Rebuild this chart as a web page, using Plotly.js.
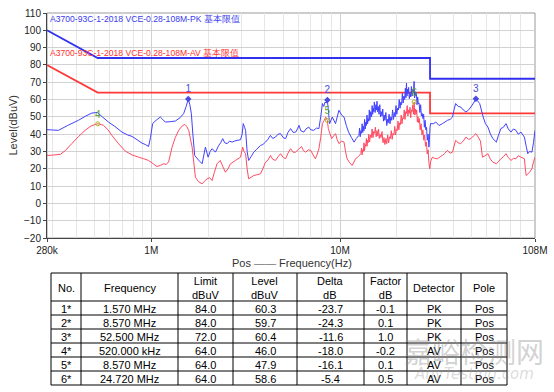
<!DOCTYPE html>
<html>
<head>
<meta charset="utf-8">
<script src="https://cdn.plot.ly/plotly-3.0.1.min.js"></script>
<style>html,body{margin:0;padding:0;background:#fff;}#chart{width:554px;height:392px;}</style>
</head>
<body>
<div id="chart"></div>
<script>
// ---------- data (frequencies in MHz, levels in dBuV) ----------
var limitFreq = [0.28, 0.52, 30, 30, 108];
var pkLimit   = [100, 84, 84, 72, 72];
var avLimit   = [80, 64, 64, 52, 52];

var pkFreq = [0.28,0.30,0.322,0.36,0.411,0.45,0.484,0.519,0.55,0.593,0.64,0.699,0.75,0.79,0.84,0.893,0.93,0.967,0.99,1.016,1.06,1.116,1.15,1.186,1.26,1.341,1.42,1.484,1.53,1.57,1.60,1.63,1.66,1.698,1.78,1.859,1.935,2.0,2.05,2.10,2.187,2.277,2.33,2.39,2.45,2.525,2.60,2.68,2.76,2.85,2.97,3.03,3.07,3.12,3.16,3.22,3.28,3.38,3.49,3.6,3.79,3.9,4.03,4.15,4.28,4.4,4.55,4.7,4.84,5.0,5.15,5.3,5.47,5.65,5.82,5.95,6.06,6.2,6.43,6.6,6.83,7.0,7.26,7.5,7.73,7.9,8.07,8.2,8.33,8.45,8.57,8.81,9.1,9.47,9.87,10.2,10.5,10.8,11.1,11.5,11.88,12.2,
  12.6,12.7,12.8,12.9,13.0,13.1,13.2,13.3,13.4,13.5,13.6,13.7,13.8,13.9,14.0,14.1,14.2,14.3,14.4,14.55,14.7,14.8,14.9,15.0,15.1,15.2,15.35,15.5,15.6,15.7,15.8,15.95,16.1,16.25,16.4,16.55,16.7,16.85,17.0,17.15,17.3,17.5,17.7,17.85,18.0,18.2,18.4,18.6,18.8,19.0,19.2,19.4,19.6,19.8,20.0,20.2,20.4,20.6,20.8,21.0,21.2,21.4,21.6,21.8,22.0,22.2,22.35,22.5,22.65,22.8,22.95,23.1,23.3,23.5,23.7,23.9,24.1,24.3,24.5,24.7,24.85,25.0,25.2,25.4,25.6,25.8,26.0,26.25,26.5,26.75,27.0,27.25,27.5,27.75,28.0,28.25,28.5,28.75,29.0,29.3,29.6,29.8,30.0,30.2,
  31.2,32.2,33.5,34.9,36,37.1,38.3,39.5,40.2,41.0,42.3,43.6,45,46.5,48,49.4,51,52.5,55,57.4,59,60.8,62.7,64.6,67.4,69,71.2,73.5,75.8,78,80.5,83,85.6,88,91.0,94.9,97,98.9,101,104,106,108];
var pkLevel = [42.6,42.4,42.2,45,48.0,50.5,52.2,52.5,50,47.0,44.5,41.2,39.5,38.7,36.8,34.8,34,32.9,38,46.1,48,49.9,48.5,47.0,47.2,47.6,49.5,51.9,56,60.3,57,51.9,40,27.7,25,22.9,32.5,26.7,30,31.6,29.6,33.5,35,37.4,35,34.5,36,35.4,36,36.4,36.8,40,46.1,44,42.2,30,24.8,27,29.6,31,33.5,34,35.4,37,39.3,37.5,38.3,40,40.3,38,37.4,41,43.2,41,41.2,43,45.1,42,41.2,43,44.1,42.5,42.2,43.5,43.2,50,57.7,56,58.5,58,59.7,46.1,49.9,46.1,53.8,51,49.9,45,41.2,38,35.4,37.5,
  39.3,43.5,38.5,42,40.5,46,41,44.5,42,48.5,43,47,45,51,46,49,47.5,54,48,53,50,56.5,51.5,55,53,58.6,52.5,57,54,59,53,56,51.5,57,50,53,50.5,54.5,47.5,51,48,52.5,45,48.5,46.5,51.5,46,50,48,54,48.5,52.5,50,56.5,51.5,55,54,60,55,58.5,57,63.5,58,62,60,66.5,61,69.5,62,66,63.5,67,60.5,64,61.5,67.5,62,66,64,70.5,61,64.5,62,64,57,61.5,57.5,58,52.5,57,50.5,52,49,51.5,44,48,42.5,44,36.5,40,32.5,37,44,46.1,
  46,47.0,45,46.1,47,48.0,48.5,49.9,54,57.7,56,55.7,54,52.8,54,55.7,58,60.4,57.7,49.9,46,44.1,40,37.4,35.4,39,43.2,44,46.1,43,41.2,43,42.2,40,41.2,38.3,33,28.7,30,29.6,35,42.2];

var avFreq = [0.28,0.30,0.329,0.35,0.379,0.41,0.446,0.48,0.52,0.558,0.59,0.618,0.67,0.728,0.79,0.856,0.91,0.967,1.02,1.072,1.12,1.163,1.2,1.235,1.288,1.34,1.396,1.45,1.503,1.54,1.578,1.645,1.713,1.78,1.859,1.92,1.976,2.04,2.10,2.16,2.23,2.32,2.40,2.47,2.55,2.63,2.79,2.97,3.05,3.10,3.16,3.22,3.28,3.49,3.62,3.79,3.9,4.03,4.15,4.28,4.4,4.55,4.7,4.84,5.0,5.15,5.3,5.47,5.65,5.82,6.0,6.25,6.4,6.58,6.8,7.0,7.2,7.4,7.55,7.73,7.9,8.07,8.25,8.4,8.57,8.67,9.03,9.25,9.47,9.65,9.87,10.2,10.5,10.7,10.9,11.25,11.6,12.1,12.5,
  12.9,13.0,13.1,13.2,13.3,13.4,13.5,13.6,13.7,13.8,13.9,14.0,14.1,14.2,14.35,14.5,14.65,14.8,14.95,15.1,15.25,15.4,15.55,15.7,15.85,16.0,16.15,16.3,16.5,16.7,16.9,17.1,17.3,17.5,17.7,17.9,18.1,18.3,18.5,18.7,18.9,19.1,19.3,19.5,19.7,19.9,20.1,20.3,20.5,20.7,20.9,21.1,21.3,21.5,21.7,21.9,22.1,22.3,22.5,22.7,22.9,23.1,23.3,23.5,23.7,23.9,24.1,24.3,24.5,24.72,24.9,25.1,25.3,25.5,25.7,25.9,26.1,26.35,26.6,26.9,27.2,27.5,27.8,28.1,28.4,28.7,29.0,29.3,29.6,29.9,30.2,30.4,30.9,
  31.8,32.9,34,34.9,36,37.1,38.3,39.5,40.2,41.0,42.3,43.6,45,46.5,48,49.4,51,52.5,54,55.5,56.9,58.7,60.8,62.7,64.6,67.4,69,71.2,73.5,75.8,78,80.5,83,85.6,88,91,94.9,96,97,99,101,104,106,108];
var avLevel = [27.7,27.9,28.3,30.5,34.5,38.5,42.2,44.8,46.0,45.1,42.5,39.3,34.5,30.2,28,26.7,25.8,24.8,23,21.3,22,22.9,22.5,24,32.5,38,42.2,44.5,45.7,44.5,42.2,32.5,15.1,12.5,11.3,13,14.2,14.8,13.2,18,22.9,24.8,21,18.0,20,22.9,24.8,26.7,32.5,30,28.7,20,14.2,16.1,16.5,17.1,20,23.8,25,27.7,25.5,24.8,27,28.7,26.5,25.8,29,31.6,29.5,29.6,31,32.9,30.5,29.6,31,30.6,28,25.8,28,31.6,38,46.1,48,49.9,47.9,43.2,37.4,39,40.3,37,34.5,36,35.4,30,25.8,23.5,21.9,25.8,27,
  28.7,32,28,31,30,35,30.5,34,33,37.5,33,36.5,35,40,35.5,39.5,38,43,38,41.5,40.5,44,38.5,42,39,43,37.5,40,38,41.5,35,38,34,37.5,34.5,39.5,35,38.5,37.5,42,37,40.5,39.5,44.5,39.5,43,42,47.5,42.5,46.5,45.5,51,46,49.5,49,54,48.5,53,52,56.5,50.5,54,52,55.5,49.5,54,53,57,51.5,58.6,51,54.5,51.5,54,47,50,46.5,49,42.5,46,39.5,42.5,36.5,39.5,33,35.5,28.5,31,23.5,20.0,24,25,26.7,
  26,25.8,27,27.7,29,30.6,29,29.6,33,36.4,35,34.5,36,38.3,37,37.4,39,40.3,38.3,36,26.7,27.5,28.7,25.5,23.8,22.9,24,25.8,27,28.7,26.5,24.8,26,25.8,27.5,26.7,25.8,20,16.1,17,18,20,24,26.7];

var pkMarkFreq  = [1.57, 8.57, 52.5];
var pkMarkLevel = [60.3, 59.7, 60.4];
var pkMarkText  = ['1', '2', '3'];
var avMarkFreq  = [0.52, 8.57, 24.72];
var avMarkLevel = [46.0, 47.9, 58.6];
var avMarkText  = ['4', '5', '6'];

var xTickVals = [0.28, 1, 10, 108];
var xTickText = ['280k', '1M', '10M', '108M'];

var tblNo       = ['1*', '2*', '3*', '4*', '5*', '6*'];
var tblFreq     = ['1.570 MHz', '8.570 MHz', '52.500 MHz', '520.000 kHz', '8.570 MHz', '24.720 MHz'];
var tblLimit    = ['84.0', '84.0', '72.0', '64.0', '64.0', '64.0'];
var tblLevel    = ['60.3', '59.7', '60.4', '46.0', '47.9', '58.6'];
var tblDelta    = ['-23.7', '-24.3', '-11.6', '-18.0', '-16.1', '-5.4'];
var tblFactor   = ['-0.1', '0.1', '1.0', '-0.2', '0.1', '0.5'];
var tblDetector = ['PK', 'PK', 'PK', 'AV', 'AV', 'AV'];
var tblPole     = ['Pos', 'Pos', 'Pos', 'Pos', 'Pos', 'Pos'];
var tblHeader   = ['No.', 'Frequency', 'Limit<br>dBuV', 'Level<br>dBuV', 'Delta<br>dB', 'Factor<br>dB', 'Detector', 'Pole'];

var pkLimitName = 'A3700-93C-1-2018 VCE-0.28-108M-PK 基本限值';
var avLimitName = 'A3700-93C-1-2018 VCE-0.28-108M-AV 基本限值';

// ---------- layout helpers ----------
var W = 554, H = 392, ML = 47, MR = 19, MT = 13, MB = 8;
var PW = W - ML - MR, PH = H - MT - MB;
function px2x(px) { return (px - ML) / PW; }
function px2y(py) { return (H - MB - py) / PH; }

var FONT = "'Liberation Sans Narrow', 'Liberation Sans', Arial, sans-serif";
var FONT_R = "'Liberation Sans', Arial, sans-serif";

var minorVals = [];
[0.1, 1, 10].forEach(function (d) {
  for (var k = 2; k <= 9; k++) {
    var v = k * d;
    if (v > 0.28 && v < 108 && Math.abs(v - 1) > 1e-9 && Math.abs(v - 10) > 1e-9) minorVals.push(v);
  }
});

// ---------- table built from the arrays (lines + texts) ----------
var colEdges = [51, 81, 178, 233, 297, 364, 407, 461, 507];
var rowEdges = [273, 301, 315, 329, 343, 357, 371, 385];
var shapes = [{type: 'rect', xref: 'x domain', yref: 'y domain', x0: 0, x1: 1, y0: 0, y1: 1,
               line: {color: '#9a9a9a', width: 1}, layer: 'below'}];
rowEdges.forEach(function (r) {
  shapes.push({type: 'line', xref: 'paper', yref: 'paper', x0: px2x(colEdges[0]), x1: px2x(colEdges[colEdges.length - 1]),
               y0: px2y(r), y1: px2y(r), line: {color: '#000', width: 1}});
});
colEdges.forEach(function (c) {
  shapes.push({type: 'line', xref: 'paper', yref: 'paper', x0: px2x(c), x1: px2x(c),
               y0: px2y(rowEdges[0]), y1: px2y(rowEdges[rowEdges.length - 1]), line: {color: '#000', width: 1}});
});
var columns = [tblNo, tblFreq, tblLimit, tblLevel, tblDelta, tblFactor, tblDetector, tblPole];
var annotations = [];
columns.forEach(function (col, ci) {
  var cx = px2x((colEdges[ci] + colEdges[ci + 1]) / 2);
  annotations.push({text: tblHeader[ci], xref: 'paper', yref: 'paper', x: cx, y: px2y((rowEdges[0] + rowEdges[1]) / 2 + 0.5),
                    xanchor: 'center', yanchor: 'middle', showarrow: false, align: 'center',
                    font: {family: FONT, size: 11, color: '#000'}});
  col.forEach(function (val, ri) {
    annotations.push({text: val, xref: 'paper', yref: 'paper', x: cx, y: px2y((rowEdges[ri + 1] + rowEdges[ri + 2]) / 2 + 0.5),
                      xanchor: 'center', yanchor: 'middle', showarrow: false,
                      font: {family: FONT, size: 11, color: '#000'}});
  });
});

annotations.push(
  {text: pkLimitName, xref: 'paper', yref: 'y', x: 0.002, y: 106.6, xanchor: 'left', yanchor: 'middle',
   showarrow: false, font: {family: FONT_R, size: 8.6, color: '#3a3af0'}},
  {text: avLimitName, xref: 'paper', yref: 'y', x: 0.002, y: 86.7, xanchor: 'left', yanchor: 'middle',
   showarrow: false, font: {family: FONT_R, size: 8.6, color: '#ff3030'}},
  {text: 'Level(dBuV)', xref: 'paper', yref: 'y domain', x: px2x(12), y: 0.5, textangle: -90,
   xanchor: 'center', yanchor: 'middle', showarrow: false, font: {family: FONT_R, size: 11, color: '#333'}},
  {text: 'Pos <span style="color:#777">——</span> Frequency(Hz)', xref: 'paper', yref: 'paper',
   x: px2x(291.5), y: px2y(263), xanchor: 'center', yanchor: 'middle', showarrow: false,
   font: {family: FONT, size: 11, color: '#333'}},
  {text: '嘉峪检测网', xref: 'paper', yref: 'paper', x: px2x(474), y: px2y(351), xanchor: 'center', yanchor: 'middle',
   showarrow: false, font: {family: "'Noto Sans CJK SC', sans-serif", size: 28, color: 'rgba(140,140,140,0.4)'}},
  {text: '<i>AnyTesting.com</i>', xref: 'paper', yref: 'paper', x: px2x(474), y: px2y(374), xanchor: 'center', yanchor: 'middle',
   showarrow: false, font: {family: "'DejaVu Sans', sans-serif", size: 15, color: 'rgba(150,150,150,0.35)'}}
);

var traces = [
  {x: limitFreq, y: pkLimit, mode: 'lines', line: {color: '#3030f0', width: 1.8}, hoverinfo: 'skip'},
  {x: limitFreq, y: avLimit, mode: 'lines', line: {color: '#ff3838', width: 1.8}, hoverinfo: 'skip'},
  {x: avFreq, y: avLevel, mode: 'lines', line: {color: '#ff4a62', width: 1, simplify: false}, hoverinfo: 'skip'},
  {x: pkFreq, y: pkLevel, mode: 'lines', line: {color: '#4040ff', width: 1, simplify: false}, hoverinfo: 'skip'},
  {x: pkMarkFreq, y: pkMarkLevel, mode: 'markers+text', text: pkMarkText, textposition: 'top center',
   textfont: {family: FONT, size: 10, color: '#4a4ae0'},
   marker: {symbol: 'diamond', size: 5, color: '#4a4ae0'}, hoverinfo: 'skip'},
  {x: avMarkFreq, y: avMarkLevel, mode: 'markers+text', text: avMarkText, textposition: 'top center',
   textfont: {family: FONT, size: 10, color: '#5ea832'},
   marker: {symbol: 'circle-open', size: 4, color: '#a8b820', line: {width: 1}}, hoverinfo: 'skip'}
];

var layout = {
  width: W, height: H,
  margin: {l: ML, r: MR, t: MT, b: MB},
  paper_bgcolor: '#fff', plot_bgcolor: '#fff',
  showlegend: false,
  font: {family: FONT, size: 10, color: '#222'},
  xaxis: {type: 'log', range: [Math.log10(0.28), Math.log10(108)], domain: [0, 1],
          tickmode: 'array', tickvals: xTickVals, ticktext: xTickText,
          ticks: 'outside', ticklen: 3, tickcolor: '#444',
          showgrid: true, gridcolor: '#d2d2d2', gridwidth: 1,
          minor: {tickmode: 'array', tickvals: minorVals, showgrid: true, gridcolor: '#e6e6e6', ticks: ''},
          showline: true, linecolor: '#444', linewidth: 1, zeroline: false,
          tickfont: {family: FONT, size: 10, color: '#222'}},
  yaxis: {range: [-20, 110], domain: [px2y(238), 1], tick0: 0, dtick: 10,
          ticks: 'outside', ticklen: 3, tickcolor: '#444',
          showgrid: true, gridcolor: '#d2d2d2', gridwidth: 1,
          showline: true, linecolor: '#444', linewidth: 1, zeroline: false,
          tickfont: {family: FONT, size: 10, color: '#222'}},
  shapes: shapes,
  annotations: annotations
};

Plotly.newPlot('chart', traces, layout, {staticPlot: true, displayModeBar: false});
</script>
</body>
</html>
